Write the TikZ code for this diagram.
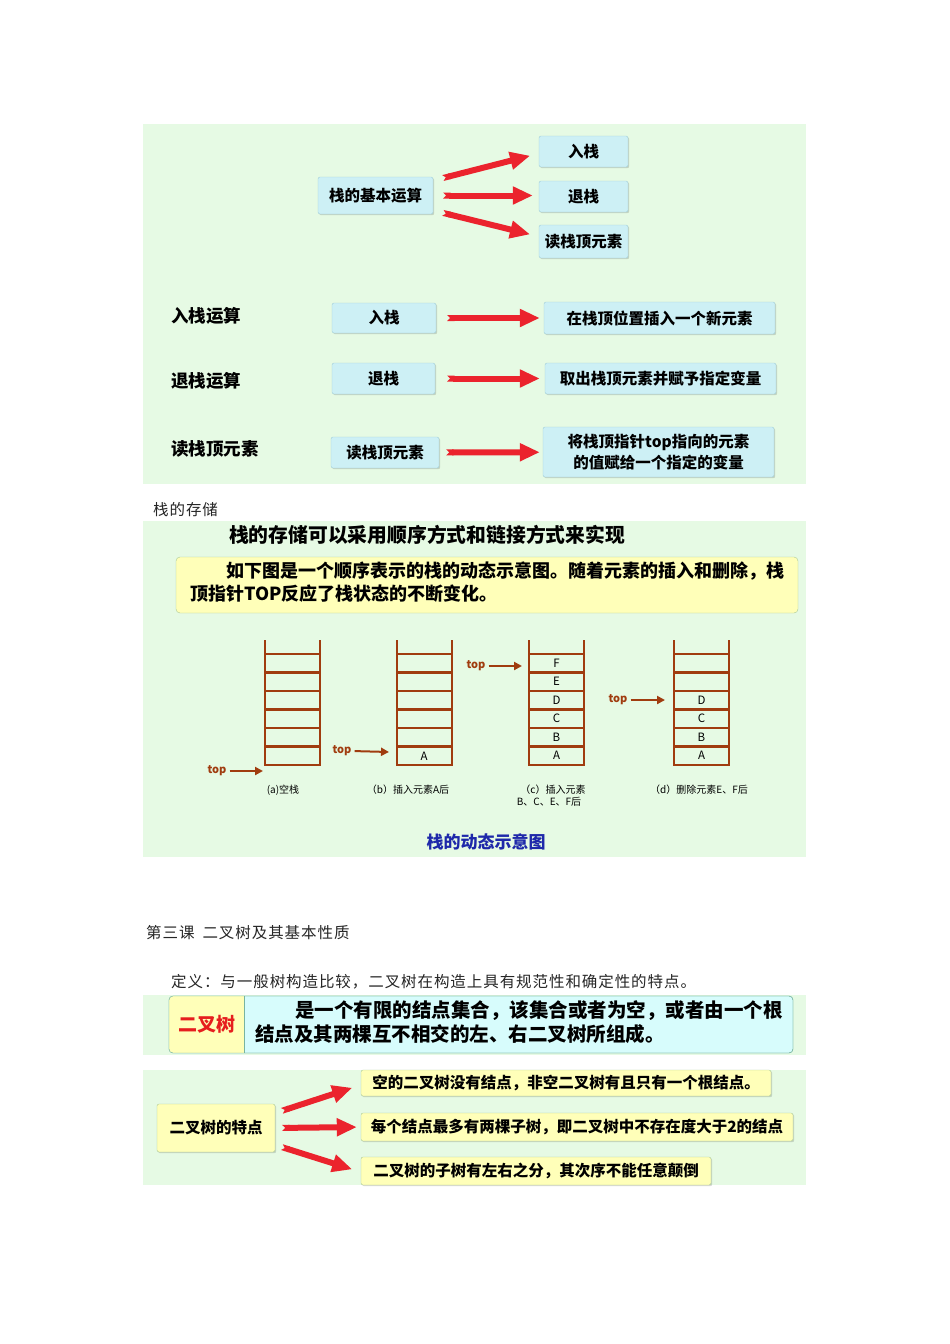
\documentclass[tikz,border=0pt]{standalone}
\usepackage{fontspec}
\setmainfont{Noto Sans CJK SC}
\usetikzlibrary{positioning,arrows.meta,shadows}
\definecolor{panelgreen}{RGB}{230,250,228}
\definecolor{cboxfill}{RGB}{205,240,245}
\definecolor{cboxline}{RGB}{160,205,215}
\definecolor{yboxfill}{RGB}{255,255,185}
\definecolor{yboxline}{RGB}{170,200,150}
\definecolor{defcyan}{RGB}{215,252,252}
\definecolor{defline}{RGB}{120,180,160}
\definecolor{arrowred}{RGB}{235,35,45}
\definecolor{stackbrown}{RGB}{160,60,15}
\definecolor{capblue}{RGB}{30,40,170}
\definecolor{titlered}{RGB}{230,30,30}

\begin{document}
\begin{tikzpicture}[x=1pt,y=-1pt,
  every node/.style={inner sep=0pt},
  boxshadow/.style={drop shadow={shadow xshift=1.2pt,shadow yshift=-1.2pt,fill=black,opacity=0.15}},
  cbox/.style={draw=cboxline,fill=cboxfill,rounded corners=2pt,boxshadow,align=center,font=\fontsize{15.5}{21}\selectfont\bfseries},
  ybox/.style={draw=yboxline,fill=yboxfill,rounded corners=2pt,boxshadow,font=\fontsize{15.5}{18}\selectfont\bfseries},
  oplabel/.style={anchor=west,font=\fontsize{17.5}{20}\selectfont\bfseries},
  plain/.style={anchor=west,font=\fontsize{15.5}{18}\selectfont\addfontfeatures{LetterSpace=6},text=black!85},
  fatarrow/.style={draw=arrowred,line width=6pt,{Triangle Cap[reversed]}-{Triangle[length=20pt,width=17pt]}},
  stackline/.style={draw=stackbrown,line width=2.5pt},
  toparrow/.style={draw=stackbrown,line width=2pt,-{Triangle[length=8pt,width=8pt]}},
  toplabel/.style={text=stackbrown,font=\fontsize{11}{12}\selectfont\bfseries},
  cell/.style={font=\fontsize{11.5}{12}\selectfont},
  stackcap/.style={font=\fontsize{10}{12}\selectfont}]
\useasboundingbox[fill=white] (0,0) rectangle (950,1344);
% panels
\fill[panelgreen] (143,124) rectangle (806,484);
\fill[panelgreen] (143,521) rectangle (806,857);
\fill[panelgreen] (143,995) rectangle (806,1055);
\fill[panelgreen] (143,1070) rectangle (806,1185);

% basic operations
\node[cbox,minimum width=115,minimum height=37] (op) at (375.5,195.5) {栈的基本运算};
\node[cbox,minimum width=89,minimum height=31] (push) at (583.5,151.5) {入栈};
\node[cbox,minimum width=89,minimum height=31] (pop) at (583.5,196.5) {退栈};
\node[cbox,minimum width=89,minimum height=33] (peek) at (583.5,241.5) {读栈顶元素};
\draw[fatarrow,shorten <=10pt,shorten >=9pt] ([yshift=15pt]op.east) -- ([yshift=-2pt]push.west);
\draw[fatarrow,shorten <=10pt,shorten >=6pt] (op.east) -- ([yshift=1pt]pop.west);
\draw[fatarrow,shorten <=10pt,shorten >=9pt] ([yshift=-15pt]op.east) -- ([yshift=5pt]peek.west);

\node[oplabel] (l1) at (171,316) {入栈运算};
\node[cbox,minimum width=104,minimum height=30] (push2) at (384,318) {入栈};
\node[cbox,minimum width=231,minimum height=32] (pushd) at (659.5,318) {在栈顶位置插入一个新元素};
\draw[fatarrow,shorten <=11pt,shorten >=4pt] (push2) -- (pushd);

\node[oplabel] (l2) at (171,381) {退栈运算};
\node[cbox,minimum width=103,minimum height=31] (pop2) at (383.5,378.5) {退栈};
\node[cbox,minimum width=231,minimum height=31] (popd) at (660.5,378.5) {取出栈顶元素并赋予指定变量};
\draw[fatarrow,shorten <=12pt,shorten >=5pt] (pop2) -- (popd);

\node[oplabel] (l3) at (171,449) {读栈顶元素};
\node[cbox,minimum width=108,minimum height=31] (peek2) at (385,452.5) {读栈顶元素};
\node[cbox,minimum width=231,minimum height=50] (peekd) at (658.5,452) {将栈顶指针top指向的元素\\的值赋给一个指定的变量};
\draw[fatarrow,shorten <=7pt,shorten >=3pt] (peek2) -- (peekd);

% storage
\node[plain] (store) at (153,510) {栈的存储};
\node[font=\fontsize{19.8}{22}\selectfont\bfseries] (stitle) at (427,535) {栈的存储可以采用顺序方式和链接方式来实现};
\node[draw=yboxline,fill=yboxfill,rounded corners=4pt,minimum width=622,minimum height=56] (intro) at (487,585) {};
\node[anchor=north west,align=left,font=\fontsize{18}{23}\selectfont\bfseries] (introtxt) at (190,562)
  {\hspace*{36pt}如下图是一个顺序表示的栈的动态示意图。随着元素的插入和删除，栈\\顶指针TOP反应了栈状态的不断变化。};

% stacks
\foreach \sx in {265,397,529,674}{
  \draw[stackline] (\sx,640) -- (\sx,766) (\sx+55,640) -- (\sx+55,766);
  \foreach \i in {0,...,6} \draw[stackline] (\sx-1,654+\i*18.5) -- (\sx+56,654+\i*18.5);
}
\node[cell] (bA) at (424,756) {A};
\foreach \lab [count=\k] in {A,B,C,D,E,F}
  \node[cell] (c\lab) at (556.5,765-\k*18.5+9.25) {\lab};
\foreach \lab [count=\k] in {A,B,C,D}
  \node[cell] (d\lab) at (701.5,765-\k*18.5+9.25) {\lab};

\node[toplabel] (topa) at (217,771) {top};
\coordinate (ea) at (263,771);
\draw[toparrow,shorten <=3pt] (topa.east) -- (ea);
\node[toplabel] (topb) at (342,751) {top};
\coordinate (eb) at (389,752);
\draw[toparrow,shorten <=3pt] (topb.east) -- (eb);
\node[toplabel] (topc) at (476,666) {top};
\coordinate (ec) at (522,666);
\draw[toparrow,shorten <=3pt] (topc.east) -- (ec);
\node[toplabel] (topd) at (618,700) {top};
\coordinate (ed) at (665,700);
\draw[toparrow,shorten <=3pt] (topd.east) -- (ed);

\node[stackcap] (capa) at (283,790) {(a)空栈};
\node[stackcap] (capb) at (408,790) {（b）插入元素A后};
\node[stackcap] (capc) at (553,790) {（c）插入元素};
\node[stackcap] (capc2) at (549,802) {B、C、E、F后};
\node[stackcap] (capd) at (699,790) {（d）删除元素E、F后};
\node[text=capblue,font=\fontsize{17}{20}\selectfont\bfseries] (dyn) at (486,842) {栈的动态示意图};

% binary tree
\node[plain] (lesson) at (146,933) {第三课\hspace{8pt}二叉树及其基本性质};
\node[plain] (defn) at (171,982) {定义：与一般树构造比较，二叉树在构造上具有规范性和确定性的特点。};
\draw[draw=defline,fill=defcyan,rounded corners=4pt] (169,996) rectangle (793,1053);
\begin{scope}
  \clip[rounded corners=4pt] (169,996) rectangle (793,1053);
  \fill[yboxfill] (169,996) rectangle (244,1053);
\end{scope}
\draw[draw=defline,rounded corners=4pt] (169,996) rectangle (793,1053);
\draw[draw=defline] (244,996) -- (244,1053);
\node[text=titlered,font=\fontsize{19}{22}\selectfont\bfseries] (bt) at (206.5,1024) {二叉树};
\node[anchor=north west,align=left,font=\fontsize{19.5}{24.5}\selectfont\bfseries] (btdef) at (255,1000)
  {\hspace*{40pt}是一个有限的结点集合，该集合或者为空，或者由一个根\\结点及其两棵互不相交的左、右二叉树所组成。};

\node[ybox,minimum width=118,minimum height=48] (feat) at (216,1128) {二叉树的特点};
\node[ybox,minimum width=410,minimum height=26] (f1) at (566,1083) {空的二叉树没有结点，非空二叉树有且只有一个根结点。};
\node[ybox,minimum width=432,minimum height=28] (f2) at (577,1127) {每个结点最多有两棵子树，即二叉树中不存在度大于2的结点};
\node[ybox,minimum width=350,minimum height=28] (f3) at (536,1171) {二叉树的子树有左右之分，其次序不能任意颠倒};
\draw[fatarrow,shorten <=7pt,shorten >=9pt] ([yshift=15pt]feat.east) -- ([yshift=-2pt]f1.west);
\draw[fatarrow,shorten <=7pt,shorten >=4pt] (feat.east) -- (f2.west);
\draw[fatarrow,shorten <=7pt,shorten >=9pt] ([yshift=-17pt]feat.east) -- ([yshift=-1pt]f3.west);
\end{tikzpicture}
\end{document}
